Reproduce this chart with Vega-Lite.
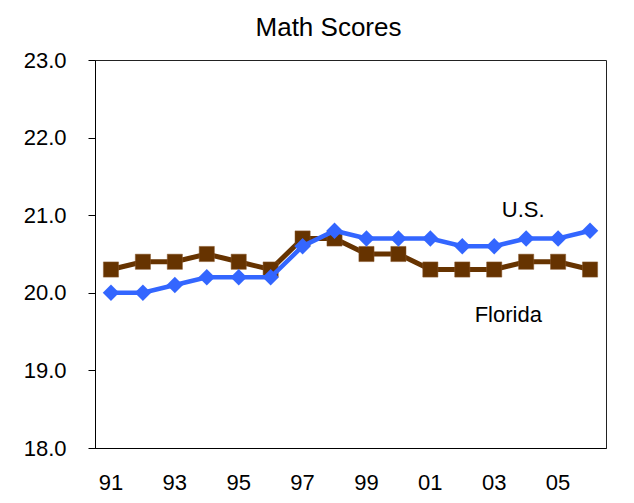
{
  "$schema": "https://vega.github.io/schema/vega-lite/v6.json",
  "width": 511,
  "height": 388,
  "autosize": "none",
  "padding": {"left": 95, "top": 60, "right": 28, "bottom": 55},
  "background": "white",
  "title": {"text": "Math Scores", "fontSize": 26, "font": "Liberation Sans", "fontWeight": "normal", "color": "#000", "offset": 8, "anchor": "middle", "dx": -22},
  "config": {
    "view": {"stroke": "#222", "strokeWidth": 1},
    "axis": {"grid": false, "labelFont": "Liberation Sans", "labelFontSize": 22, "labelColor": "#000", "domainColor": "#000", "tickColor": "#000"}
  },
  "datasets": {
    "scores": [
      {"year": "91", "series": "Florida", "score": 20.3},
      {"year": "92", "series": "Florida", "score": 20.4},
      {"year": "93", "series": "Florida", "score": 20.4},
      {"year": "94", "series": "Florida", "score": 20.5},
      {"year": "95", "series": "Florida", "score": 20.4},
      {"year": "96", "series": "Florida", "score": 20.3},
      {"year": "97", "series": "Florida", "score": 20.7},
      {"year": "98", "series": "Florida", "score": 20.7},
      {"year": "99", "series": "Florida", "score": 20.5},
      {"year": "00", "series": "Florida", "score": 20.5},
      {"year": "01", "series": "Florida", "score": 20.3},
      {"year": "02", "series": "Florida", "score": 20.3},
      {"year": "03", "series": "Florida", "score": 20.3},
      {"year": "04", "series": "Florida", "score": 20.4},
      {"year": "05", "series": "Florida", "score": 20.4},
      {"year": "06", "series": "Florida", "score": 20.3},
      {"year": "91", "series": "U.S.", "score": 20.0},
      {"year": "92", "series": "U.S.", "score": 20.0},
      {"year": "93", "series": "U.S.", "score": 20.1},
      {"year": "94", "series": "U.S.", "score": 20.2},
      {"year": "95", "series": "U.S.", "score": 20.2},
      {"year": "96", "series": "U.S.", "score": 20.2},
      {"year": "97", "series": "U.S.", "score": 20.6},
      {"year": "98", "series": "U.S.", "score": 20.8},
      {"year": "99", "series": "U.S.", "score": 20.7},
      {"year": "00", "series": "U.S.", "score": 20.7},
      {"year": "01", "series": "U.S.", "score": 20.7},
      {"year": "02", "series": "U.S.", "score": 20.6},
      {"year": "03", "series": "U.S.", "score": 20.6},
      {"year": "04", "series": "U.S.", "score": 20.7},
      {"year": "05", "series": "U.S.", "score": 20.7},
      {"year": "06", "series": "U.S.", "score": 20.8}
    ],
    "labels": [
      {"year": "04", "score": 21.07, "label": "U.S.", "shift": 13},
      {"year": "03", "score": 19.71, "label": "Florida", "shift": 30}
    ]
  },
  "encoding": {
    "x": {
      "field": "year", "type": "ordinal",
      "sort": ["91","92","93","94","95","96","97","98","99","00","01","02","03","04","05","06"],
      "scale": {"paddingInner": 0, "paddingOuter": 0},
      "axis": {"title": null, "values": ["91","93","95","97","99","01","03","05"], "ticks": false, "labelAngle": 0, "labelPadding": 24, "domainColor": "#000"}
    },
    "y": {
      "field": "score", "type": "quantitative",
      "scale": {"domain": [18, 23], "zero": false, "nice": false},
      "axis": {"title": null, "values": [18, 19, 20, 21, 22, 23], "format": ".1f", "tickSize": 7, "labelPadding": 22}
    }
  },
  "layer": [
    {
      "data": {"name": "scores"},
      "transform": [{"filter": "datum.series === 'Florida'"}],
      "mark": {"type": "line", "color": "#663300", "strokeWidth": 5}
    },
    {
      "data": {"name": "scores"},
      "transform": [{"filter": "datum.series === 'Florida'"}],
      "mark": {"type": "point", "shape": "square", "filled": true, "size": 230, "color": "#663300", "opacity": 1, "stroke": "#8a5a2e", "strokeWidth": 0.5}
    },
    {
      "data": {"name": "scores"},
      "transform": [{"filter": "datum.series === 'U.S.'"}],
      "mark": {"type": "line", "color": "#3366FF", "strokeWidth": 4.5}
    },
    {
      "data": {"name": "scores"},
      "transform": [{"filter": "datum.series === 'U.S.'"}],
      "mark": {"type": "point", "shape": "diamond", "filled": true, "size": 270, "color": "#3366FF", "opacity": 1}
    },
    {
      "data": {"name": "labels"},
      "mark": {"type": "text", "font": "Liberation Sans", "fontSize": 22, "color": "#000", "align": "center", "baseline": "middle"},
      "encoding": {
        "text": {"field": "label"},
        "xOffset": {"field": "shift", "type": "quantitative", "scale": null}
      }
    }
  ]
}
